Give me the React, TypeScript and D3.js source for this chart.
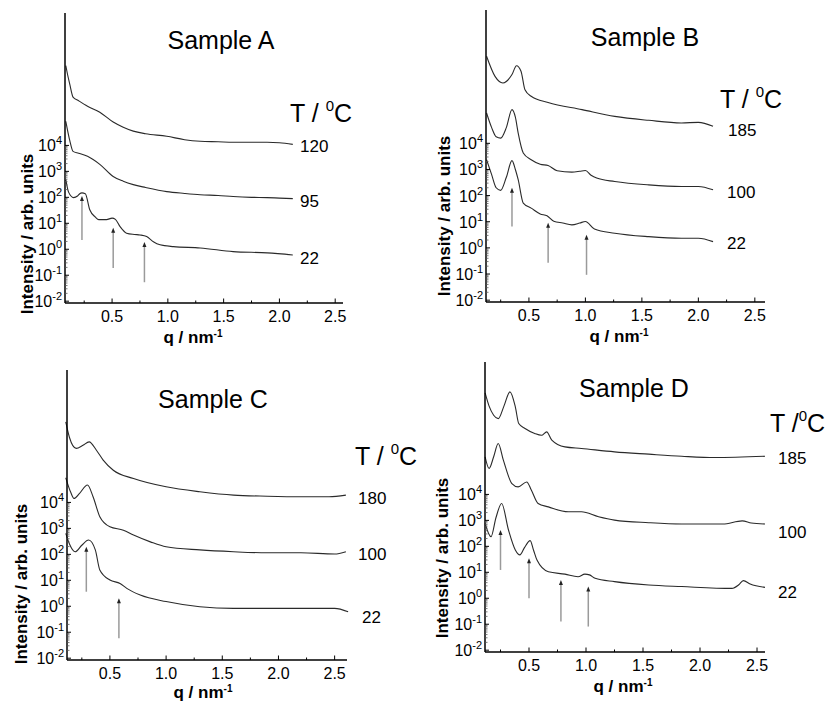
import React from "react";
import * as d3 from "d3";

const FONT = "'Liberation Sans', Arial, Helvetica, sans-serif";

type Pt = [number, number]; // [q in nm^-1, log10 intensity]
type Arrow = [number, number, number]; // [q, log10 tip, log10 tail]

// ---- Sample A ----
const a120: Pt[] = [
  [0.085, 7.07], [0.1, 6.75], [0.12, 6.37], [0.15, 5.86], [0.2, 5.72], [0.28, 5.51],
  [0.39, 5.28], [0.51, 4.9], [0.6, 4.7], [0.69, 4.55], [0.8, 4.45], [0.99, 4.35],
  [1.15, 4.22], [1.29, 4.16], [1.45, 4.14], [1.585, 4.12], [1.75, 4.12], [1.89, 4.12],
  [2.0, 4.1], [2.12, 4.04],
];
const a95: Pt[] = [
  [0.085, 4.93], [0.1, 4.6], [0.12, 4.2], [0.15, 3.77], [0.2, 3.7], [0.28, 3.58],
  [0.39, 3.27], [0.51, 2.8], [0.6, 2.62], [0.69, 2.49], [0.8, 2.38], [0.99, 2.22],
  [1.15, 2.15], [1.29, 2.1], [1.45, 2.07], [1.585, 2.03], [1.75, 2.0], [1.89, 1.99],
  [2.0, 1.97], [2.12, 1.95],
];
const a22: Pt[] = [
  [0.085, 2.69], [0.11, 2.2], [0.155, 1.99], [0.19, 2.05], [0.21, 2.14], [0.23, 2.17],
  [0.26, 2.14], [0.3, 1.52], [0.35, 1.24], [0.38, 1.14], [0.45, 1.14], [0.5, 1.2],
  [0.53, 1.15], [0.57, 0.88], [0.63, 0.62], [0.7, 0.57], [0.75, 0.55], [0.81, 0.49],
  [0.87, 0.29], [0.93, 0.17], [1.05, 0.1], [1.29, 0.05], [1.585, -0.09], [1.89, -0.14],
  [2.12, -0.22],
];
const tempsA = ["120", "95", "22"];
const arrowsA: Arrow[] = [[0.23, 2.05, 0.36], [0.51, 0.83, -0.72], [0.79, 0.28, -1.27]];

// ---- Sample B ----
const b185: Pt[] = [
  [0.125, 7.33], [0.2, 6.56], [0.27, 6.31], [0.35, 6.63], [0.39, 6.97], [0.43, 6.76],
  [0.465, 6.05], [0.52, 5.8], [0.67, 5.56], [0.97, 5.29], [1.26, 5.03], [1.56, 4.88],
  [1.85, 4.78], [2.0, 4.8], [2.13, 4.65],
];
const b100: Pt[] = [
  [0.125, 5.16], [0.17, 4.6], [0.21, 4.25], [0.25, 4.2], [0.3, 4.6], [0.35, 5.29],
  [0.38, 5.0], [0.405, 4.39], [0.45, 3.63], [0.52, 3.37], [0.6, 3.2], [0.67, 3.15],
  [0.75, 2.95], [0.88, 2.9], [0.95, 2.93], [1.0, 2.96], [1.05, 2.78], [1.1, 2.67],
  [1.26, 2.54], [1.56, 2.41], [1.85, 2.35], [2.0, 2.35], [2.13, 2.22],
];
const b22: Pt[] = [
  [0.125, 3.37], [0.17, 2.8], [0.21, 2.3], [0.25, 2.2], [0.3, 2.7], [0.35, 3.34],
  [0.38, 3.0], [0.405, 2.61], [0.45, 1.71], [0.52, 1.52], [0.6, 1.3], [0.66, 1.23],
  [0.72, 1.02], [0.8, 0.95], [0.88, 0.88], [0.95, 0.95], [1.0, 1.01], [1.08, 0.72],
  [1.26, 0.56], [1.56, 0.43], [1.85, 0.37], [2.0, 0.37], [2.13, 0.24],
];
const tempsB = ["185", "100", "22"];
const arrowsB: Arrow[] = [[0.35, 2.3, 0.82], [0.67, 0.96, -0.57], [1.01, 0.5, -1.03]];

// ---- Sample C ----
const c180: Pt[] = [
  [0.107, 7.1], [0.14, 6.5], [0.2, 6.08], [0.26, 6.2], [0.315, 6.33], [0.38, 6.01],
  [0.44, 5.63], [0.53, 5.24], [0.71, 4.92], [1.0, 4.6], [1.3, 4.41], [1.6, 4.28],
  [1.9, 4.24], [2.2, 4.22], [2.45, 4.22], [2.6, 4.28],
];
const c100: Pt[] = [
  [0.107, 4.95], [0.15, 4.4], [0.18, 4.15], [0.23, 4.35], [0.3, 4.67], [0.35, 4.22],
  [0.41, 3.45], [0.5, 3.06], [0.62, 2.93], [0.71, 2.74], [0.86, 2.48], [1.0, 2.29],
  [1.3, 2.17], [1.6, 2.1], [1.9, 2.06], [2.2, 2.06], [2.5, 2.01], [2.6, 2.1],
];
const c22: Pt[] = [
  [0.107, 2.81], [0.14, 2.4], [0.19, 2.1], [0.25, 2.35], [0.31, 2.55], [0.37, 2.17],
  [0.41, 1.4], [0.5, 1.01], [0.59, 0.88], [0.65, 0.69], [0.77, 0.43], [1.0, 0.18],
  [1.3, -0.02], [1.6, -0.08], [1.9, -0.08], [2.2, -0.08], [2.5, -0.08], [2.62, -0.21],
];
const tempsC = ["180", "100", "22"];
const arrowsC: Arrow[] = [[0.29, 2.29, 0.56], [0.58, 0.31, -1.23]];

// ---- Sample D ----
const d185: Pt[] = [
  [0.115, 7.91], [0.15, 7.4], [0.19, 7.05], [0.23, 6.92], [0.28, 7.4], [0.333, 7.95],
  [0.38, 7.37], [0.41, 6.73], [0.465, 6.54], [0.55, 6.35], [0.61, 6.28], [0.655, 6.41],
  [0.7, 6.09], [0.815, 5.83], [0.96, 5.77], [1.25, 5.64], [1.55, 5.55], [1.84, 5.47],
  [2.13, 5.42], [2.57, 5.47],
];
const d100: Pt[] = [
  [0.115, 5.45], [0.15, 5.0], [0.19, 5.45], [0.23, 5.96], [0.275, 5.32], [0.35, 4.42],
  [0.405, 4.29], [0.48, 4.48], [0.52, 4.17], [0.58, 3.65], [0.67, 3.52], [0.845, 3.33],
  [0.96, 3.33], [1.11, 3.14], [1.25, 3.01], [1.55, 2.91], [1.84, 2.86], [2.2, 2.86],
  [2.37, 2.98], [2.45, 2.9], [2.57, 2.86],
];
const d22: Pt[] = [
  [0.115, 2.88], [0.167, 2.37], [0.21, 3.1], [0.26, 3.65], [0.32, 2.63], [0.38, 1.86],
  [0.42, 1.67], [0.46, 1.95], [0.51, 2.22], [0.54, 1.85], [0.57, 1.47], [0.67, 1.02],
  [0.815, 0.93], [0.93, 0.83], [0.99, 0.93], [1.03, 0.9], [1.08, 0.77], [1.25, 0.64],
  [1.55, 0.51], [1.84, 0.45], [2.28, 0.38], [2.34, 0.52], [2.38, 0.68], [2.44, 0.55],
  [2.57, 0.42],
];
const tempsD = ["185", "100", "22"];
const arrowsD: Arrow[] = [
  [0.25, 2.63, 1.09], [0.5, 1.54, 0.0], [0.78, 0.7, -0.9], [1.02, 0.45, -1.09],
];

// axis ticks
const xMajor = [0.5, 1.0, 1.5, 2.0, 2.5];
const xMinor = [0.25, 0.75, 1.25, 1.75, 2.25];
const yExps = [-2, -1, 0, 1, 2, 3, 4];
const logDomain: [number, number] = [-2.07, 9.1];

const panels = [
  {
    title: "Sample A", curves: [a120, a95, a22], temps: tempsA, arrows: arrowsA,
    x0: 65, y0: 13, w: 278, h: 290, qDomain: [0.078, 2.57],
    titlePos: [221, 49], tPos: [290, 122], tGap: true, tempX: [300, 300, 300], tempY: [152, 207, 264],
    yLab: [33, 234], xLab: [193, 343],
  },
  {
    title: "Sample B", curves: [b185, b100, b22], temps: tempsB, arrows: arrowsB,
    x0: 486, y0: 10, w: 279, h: 292, qDomain: [0.12, 2.59],
    titlePos: [645, 46], tPos: [720, 108], tGap: true, tempX: [728, 727, 727], tempY: [136, 198, 249],
    yLab: [450, 216], xLab: [619, 342],
  },
  {
    title: "Sample C", curves: [c180, c100, c22], temps: tempsC, arrows: arrowsC,
    x0: 67, y0: 370, w: 280, h: 290, qDomain: [0.118, 2.61],
    titlePos: [213, 408], tPos: [355, 465], tGap: true, tempX: [358, 358, 362], tempY: [504, 560, 623],
    yLab: [27, 584], xLab: [203, 698],
  },
  {
    title: "Sample D", curves: [d185, d100, d22], temps: tempsD, arrows: arrowsD,
    x0: 485, y0: 362, w: 280, h: 290, qDomain: [0.114, 2.57],
    titlePos: [634, 397], tPos: [770, 432], tGap: false, tempX: [778, 778, 778], tempY: [464, 538, 598],
    yLab: [448, 558], xLab: [623, 692],
  },
];

function Panel({ p }: { p: (typeof panels)[number] }) {
  const x = d3.scaleLinear().domain(p.qDomain).range([0, p.w]);
  const y = d3.scaleLog().domain([10 ** logDomain[0], 10 ** logDomain[1]]).range([p.h, 0]);
  const line = d3
    .line<Pt>()
    .x((d) => x(d[0]))
    .y((d) => y(10 ** d[1]))
    .curve(d3.curveMonotoneX);

  const minorY: number[] = [];
  for (let e = -2; e < 4; e++) for (let k = 2; k <= 9; k++) minorY.push(k * 10 ** e);

  return (
    <g>
      <g transform={`translate(${p.x0},${p.y0})`}>
        {p.curves.map((c, i) => (
          <path key={i} d={line(c) || ""} fill="none" stroke="#2a2a2a" strokeWidth={1.1} />
        ))}
        {p.arrows.map(([q, tip, tail], i) => {
          const ax = x(q);
          const ty = y(10 ** tip);
          const by = y(10 ** tail);
          return (
            <g key={i}>
              <line x1={ax} x2={ax} y1={by} y2={ty + 3} stroke="#9a9a9a" strokeWidth={1.5} />
              <path d={`M${ax},${ty} L${ax - 2},${ty + 5} L${ax + 2},${ty + 5} Z`} fill="#222" />
            </g>
          );
        })}
        {/* y axis */}
        <line x1={0} x2={0} y1={0} y2={p.h} stroke="#000" strokeWidth={1.5} />
        {minorY.map((v, i) => (
          <line key={i} x1={0} x2={2.5} y1={y(v)} y2={y(v)} stroke="#555" strokeWidth={0.8} />
        ))}
        {yExps.map((e) => (
          <g key={e}>
            <line x1={0} x2={4} y1={y(10 ** e)} y2={y(10 ** e)} stroke="#000" strokeWidth={1} />
            <text x={-3} y={y(10 ** e) + 6} textAnchor="end" fontFamily={FONT} fontSize={16} fill="#000">
              10
              <tspan fontSize={11} dy={-7}>{e < 0 ? `-${-e}` : e}</tspan>
            </text>
          </g>
        ))}
        {/* x axis */}
        <line x1={0} x2={p.w} y1={p.h} y2={p.h} stroke="#000" strokeWidth={1.5} />
        {xMinor.map((v) => (
          <line key={v} x1={x(v)} x2={x(v)} y1={p.h} y2={p.h - 2.5} stroke="#000" strokeWidth={1} />
        ))}
        {xMajor.map((v) => (
          <g key={v}>
            <line x1={x(v)} x2={x(v)} y1={p.h} y2={p.h - 4.5} stroke="#000" strokeWidth={1} />
            <text x={x(v)} y={p.h + 19} textAnchor="middle" fontFamily={FONT} fontSize={16} fill="#000">
              {d3.format(".1f")(v)}
            </text>
          </g>
        ))}
      </g>
      <text x={p.titlePos[0]} y={p.titlePos[1]} textAnchor="middle" fontFamily={FONT} fontSize={25} fill="#000">
        {p.title}
      </text>
      <text x={p.tPos[0]} y={p.tPos[1]} fontFamily={FONT} fontSize={25} fill="#000">
        {p.tGap ? "T / " : "T /"}
        <tspan fontSize={15} dy={-11}>0</tspan>
        <tspan dy={11}>C</tspan>
      </text>
      {p.temps.map((t, i) => (
        <text key={t + i} x={p.tempX[i]} y={p.tempY[i]} fontFamily={FONT} fontSize={17} fill="#000">
          {t}
        </text>
      ))}
      <text
        transform={`translate(${p.yLab[0]},${p.yLab[1]}) rotate(-90)`}
        textAnchor="middle"
        fontFamily={FONT}
        fontSize={17}
        fontWeight="bold"
        fill="#000"
      >
        Intensity / arb. units
      </text>
      <text x={p.xLab[0]} y={p.xLab[1]} textAnchor="middle" fontFamily={FONT} fontSize={17} fontWeight="bold" fill="#000">
        q / nm
        <tspan fontSize={10} dy={-6}>-1</tspan>
      </text>
    </g>
  );
}

export default function App() {
  return (
    <svg
      width={830}
      height={705}
      style={{ position: "absolute", left: 0, top: 0, background: "#fff" }}
    >
      <rect width={830} height={705} fill="#fff" />
      {panels.map((p) => (
        <Panel key={p.title} p={p} />
      ))}
    </svg>
  );
}
